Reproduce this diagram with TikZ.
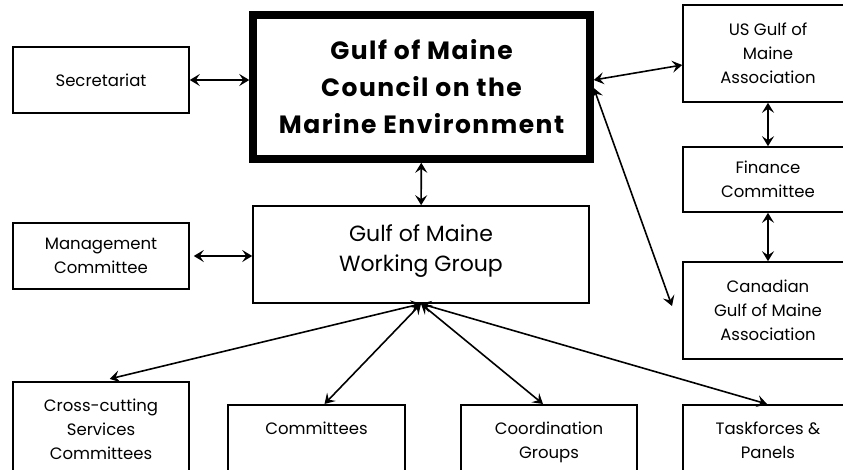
\documentclass[tikz,border=0pt]{standalone}
\usepackage{fontspec}
\setmainfont{Poppins}
\usetikzlibrary{arrows.meta}

% text that hangs from its first line
\newcommand{\hangtext}[1]{\begin{tabular}[t]{@{}c@{}}#1\end{tabular}}

\begin{document}
\begin{tikzpicture}[x=1pt, y=-1pt, line width=1.6pt,
    >={Stealth[length=10pt,width=12pt,inset=4pt]},
    every node/.style={rectangle, draw, fill=white, align=center, inner sep=2pt,
        font=\fontsize{16.5}{24}\selectfont},
    council/.style={line width=7.5pt,
        font=\fontsize{25}{37}\selectfont\bfseries\addfontfeature{LetterSpace=6}},
    group/.style={text depth=12pt, font=\fontsize{22}{30}\selectfont},
    leaf/.style={anchor=north, text height=28pt, text depth=80pt}]
    \path[use as bounding box] (0,0) rectangle (843,469);
    \clip (0,0) rectangle (843,469);

    \node (c) at (421.5,87)  [council, minimum width=337pt, minimum height=144pt] {Gulf of Maine\\Council on the\\Marine Environment};
    \node (w) at (421,254.5) [group, minimum width=336pt, minimum height=97pt] {Gulf of Maine\\Working Group};
    \node (s) at (101,80)    [minimum width=176pt, minimum height=66pt] {Secretariat};
    \node (m) at (101,256)   [minimum width=176pt, minimum height=66pt] {Management\\Committee};
    \node (u) at (768,53.5)  [minimum width=170pt, minimum height=97pt] {US Gulf of\\Maine\\Association};
    \node (f) at (768,179.5) [minimum width=170pt, minimum height=65pt] {Finance\\Committee};
    \node (a) at (768,310.5) [minimum width=170pt, minimum height=97pt] {Canadian\\Gulf of Maine\\Association};
    \node (x) at (101,381)   [leaf, minimum width=176pt] {\hangtext{Cross-cutting\\Services\\Committees}};
    \node (t) at (316.5,404) [leaf, minimum width=177pt] {\hangtext{Committees}};
    \node (g) at (549,404)   [leaf, minimum width=176pt] {\hangtext{Coordination\\Groups}};
    \node (p) at (768,404)   [leaf, minimum width=170pt] {\hangtext{Taskforces \&\\Panels}};
    \coordinate (k) at (672,306);

    % council links
    \draw[<->] (s) -- (c.west |- s);
    \draw[<->] (c) -- (w);
    \draw[<->] ([yshift=7pt]c.east) -- ([yshift=-11.5pt]u.west);
    \draw[<->] ([yshift=-1pt]c.east) -- (k);
    \draw[<->] (u) -- (f);
    \draw[<->] (f) -- (a);

    % working group links
    \draw[<->, shorten <=4pt] (m) -- (w.west |- m);
    \draw[<->, shorten >=9pt] (w.south) -- (x.north);
    \draw[<->] (w.south) -- ([xshift=8pt]t.north);
    \draw[<->] (w.south) -- ([xshift=-6pt]g.north);
    \draw[<->] (w.south) -- ([xshift=-1pt]p.north);
\end{tikzpicture}
\end{document}
